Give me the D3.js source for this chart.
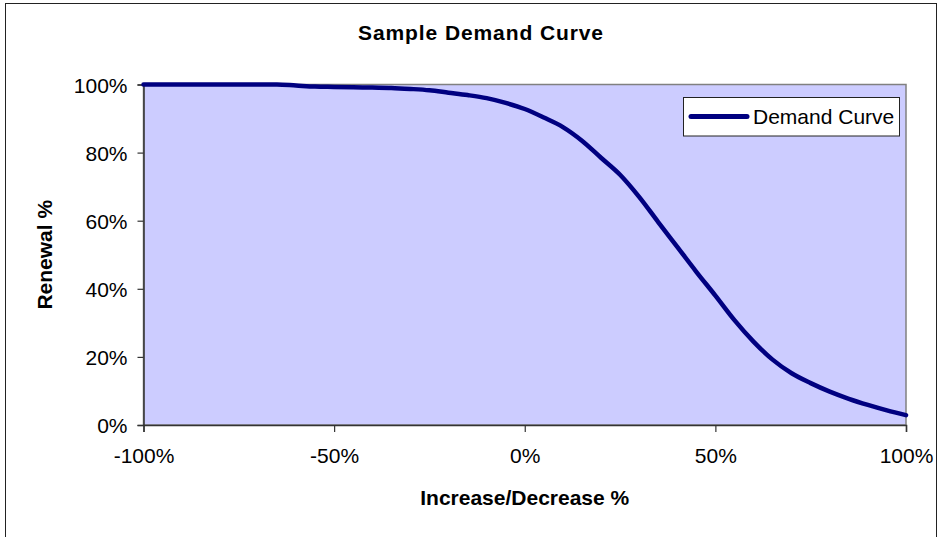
<!DOCTYPE html>
<html>
<head>
<meta charset="utf-8">
<script src="https://cdn.jsdelivr.net/npm/d3@7"></script>
<style>
  body { margin: 0; background: #fff; }
  svg { display: block; font-family: Arial, "Liberation Sans", sans-serif; }
</style>
</head>
<body>
<div id="chart"></div>
<script>
// price change (%) and renewal (%)
var change  = [-100, -95, -90, -85, -80, -75, -70, -65, -60, -55, -50, -45, -40, -35, -30, -25, -20, -15, -10, -5,
               0, 5, 10, 15, 20, 25, 30, 35, 40, 45, 50, 55, 60, 65, 70, 75, 80, 85, 90, 95, 100];
var renewal = [100, 100, 100, 100, 100, 100, 100, 100, 99.7, 99.4, 99.3, 99.2, 99.1, 99.0, 98.7, 98.3, 97.6, 96.9, 96.0, 94.6,
               92.8, 90.3, 87.5, 83.5, 78.5, 73.5, 67.0, 59.6, 52.3, 45.0, 38.0, 30.8, 24.5, 19.2, 15.2, 12.3, 9.8, 7.7, 5.9, 4.3, 2.9];
var xTicks = [-100, -50, 0, 50, 100];
var yTicks = [0, 20, 40, 60, 80, 100];

var width = 942, height = 537;
var plot = {left: 143.5, top: 84.5, right: 906, bottom: 425};

var svg = d3.select("#chart").append("svg")
    .attr("width", width)
    .attr("height", height);

// chart frame (runs off the bottom like the original)
svg.append("rect")
    .attr("x", 5.5).attr("y", 3.5)
    .attr("width", 931).attr("height", 600)
    .style("fill", "#fff")
    .style("stroke", "#222")
    .style("stroke-width", 1);

var x = d3.scaleLinear().domain([-100, 100]).range([plot.left, plot.right]);
var y = d3.scaleLinear().domain([0, 100]).range([plot.bottom, plot.top]);

// plot area
svg.append("rect")
    .attr("x", plot.left).attr("y", plot.top)
    .attr("width", plot.right - plot.left)
    .attr("height", plot.bottom - plot.top)
    .style("fill", "#CCCCFF")
    .style("stroke", "#808080")
    .style("stroke-width", 1.5);

// axes
var yAxis = d3.axisLeft(y).tickValues(yTicks).tickSize(6).tickPadding(10)
    .tickFormat(function(d) { return d + "%"; });
var xAxis = d3.axisBottom(x).tickValues(xTicks).tickSize(7).tickPadding(16)
    .tickFormat(function(d) { return d + "%"; });

var gy = svg.append("g").attr("transform", "translate(" + plot.left + ",0)").call(yAxis);
var gx = svg.append("g").attr("transform", "translate(0," + plot.bottom + ")").call(xAxis);

[gx, gy].forEach(function(g) {
  g.select(".domain").style("stroke", "#333").style("stroke-width", 1.5);
  g.selectAll(".tick line").style("stroke", "#333").style("stroke-width", 1.2);
  g.selectAll(".tick text")
    .style("font-family", "Arial, 'Liberation Sans', sans-serif")
    .style("font-size", "21px")
    .style("fill", "#000");
});
gy.selectAll(".tick text").attr("dy", "0.36em");

// the curve
var line = d3.line()
    .x(function(d, i) { return x(change[i]); })
    .y(function(d) { return y(d); })
    .curve(d3.curveMonotoneX);

svg.append("path")
    .datum(renewal)
    .attr("d", line)
    .style("fill", "none")
    .style("stroke", "#000080")
    .style("stroke-width", 4.5)
    .style("stroke-linecap", "round")
    .style("stroke-linejoin", "round");

// titles
svg.append("text")
    .attr("x", 481).attr("y", 40)
    .attr("text-anchor", "middle")
    .text("Sample Demand Curve")
    .style("font-size", "21px")
    .style("letter-spacing", "0.9px")
    .style("font-weight", "bold");

svg.append("text")
    .attr("x", (plot.left + plot.right) / 2).attr("y", 505)
    .attr("text-anchor", "middle")
    .text("Increase/Decrease %")
    .style("font-size", "21px")
    .style("font-weight", "bold");

svg.append("text")
    .attr("transform", "translate(52," + (plot.top + plot.bottom) / 2 + ") rotate(-90)")
    .attr("text-anchor", "middle")
    .text("Renewal %")
    .style("font-size", "21px")
    .style("font-weight", "bold");

// legend
var legend = svg.append("g");
legend.append("rect")
    .attr("x", 683.5).attr("y", 97.5)
    .attr("width", 216).attr("height", 38.5)
    .style("fill", "#fff")
    .style("stroke", "#222")
    .style("stroke-width", 1);
legend.append("line")
    .attr("x1", 691).attr("x2", 747)
    .attr("y1", 116.5).attr("y2", 116.5)
    .style("stroke", "#000080")
    .style("stroke-width", 5)
    .style("stroke-linecap", "round");
legend.append("text")
    .attr("x", 753).attr("y", 124)
    .text("Demand Curve")
    .style("font-size", "21px");
</script>
</body>
</html>
